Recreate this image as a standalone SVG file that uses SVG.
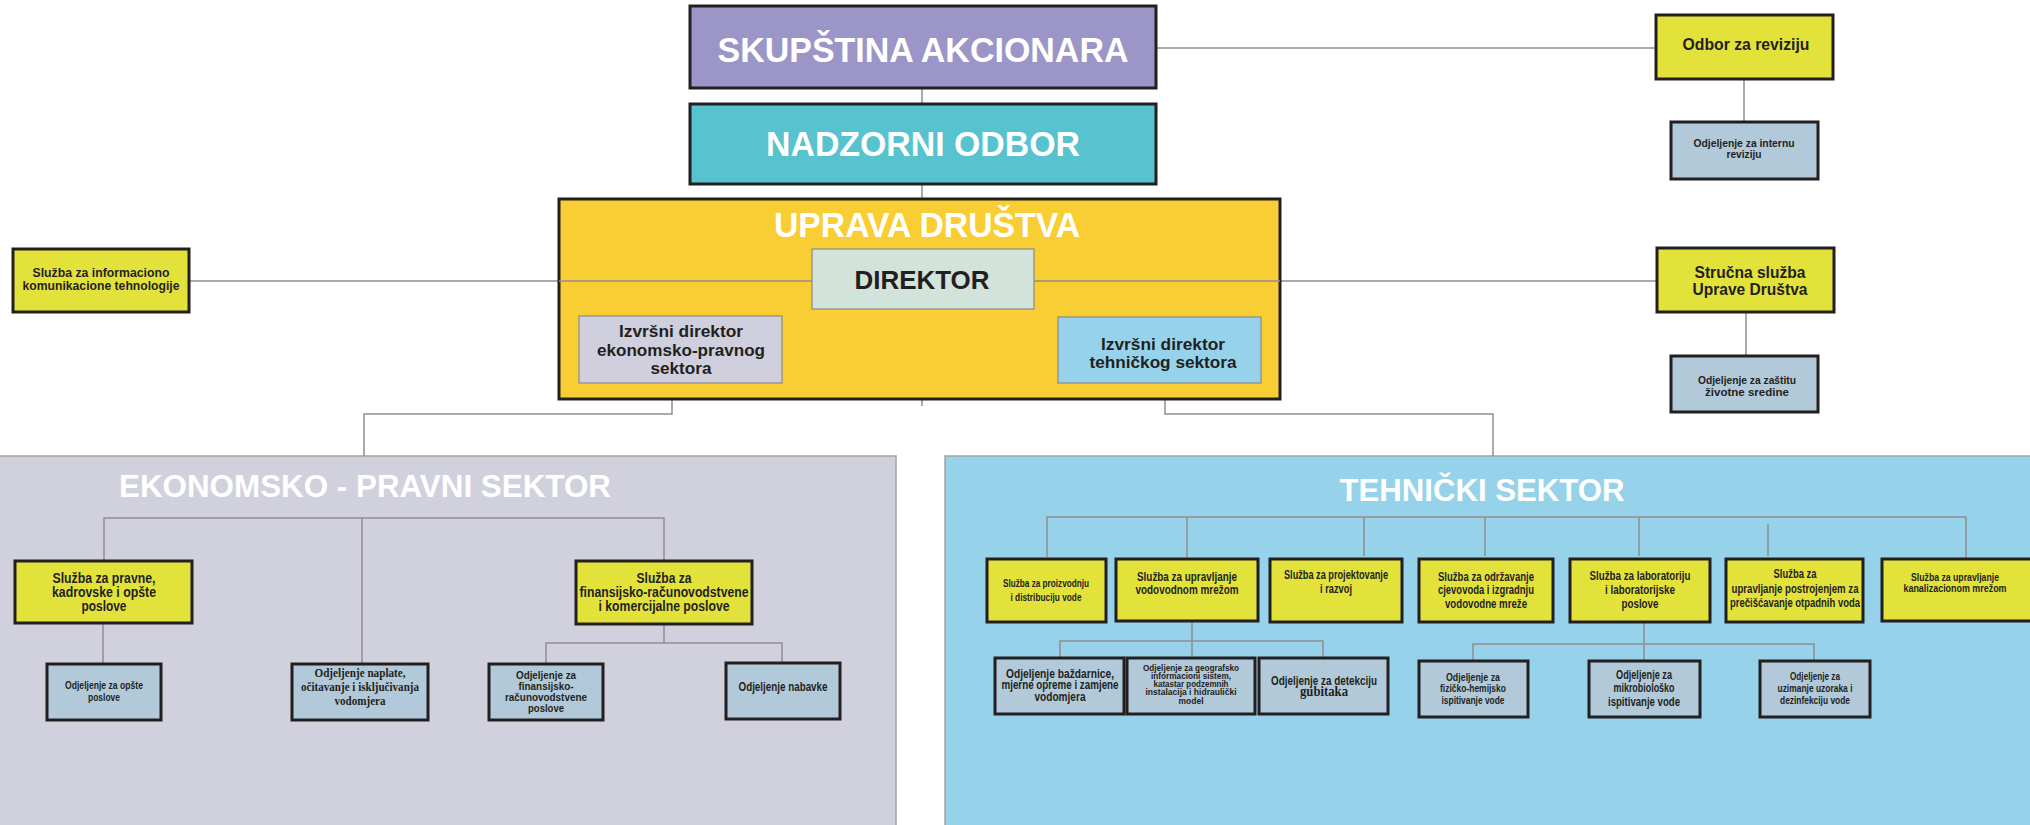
<svg xmlns="http://www.w3.org/2000/svg" width="2030" height="825" viewBox="0 0 2030 825">
<style>
text{font-family:"Liberation Sans",Arial,sans-serif;font-weight:bold;text-anchor:middle;fill:#231f20}
.w{fill:#ffffff}
.serif{font-family:"Liberation Serif","Times New Roman",serif}
.con{stroke:#8f8f8f;stroke-width:1.5;fill:none}
.thick{stroke:#231f20;stroke-width:3}
.thin{stroke:#8a8a8a;stroke-width:1.2}
.yel{fill:#e3e23b}
.blu{fill:#b2c9d9}
</style>
<rect x="0" y="0" width="2030" height="825" fill="#ffffff"/>
<g id="region-ekonomsko">
<rect x="-5" y="456" width="901" height="380" fill="#d1d1dd" stroke="#a3a3a8" stroke-width="1.5"/>
<text class="w" x="365" y="497" font-size="31" textLength="492" lengthAdjust="spacingAndGlyphs">EKONOMSKO - PRAVNI SEKTOR</text>
</g>
<g id="region-tehnicki">
<rect x="945" y="456" width="1100" height="380" fill="#96d3ea" stroke="#a3a3a8" stroke-width="1.5"/>
<text class="w" x="1482" y="501" font-size="31" textLength="285" lengthAdjust="spacingAndGlyphs">TEHNIČKI SEKTOR</text>
</g>
<g id="connectors" class="con">
<path d="M1156 48H1656"/>
<path d="M922 88V104M922 184V199M922 399V406"/>
<path d="M1744 79V122"/>
<path d="M189 281H1657"/>
<path d="M1746 312V356"/>
<path d="M672 383V414H364V456"/>
<path d="M1165 383V414H1493V456"/>
<path d="M104 561V518H664V561M362 518V664M103 623V664"/>
<path d="M664 624V643M546 664V643H782V663"/>
<path d="M1047 557V517H1966V558M1187 517V557M1364 517V556M1485 517V556M1639 517V556M1768 524V556"/>
<path d="M1192 621V658M1060 658V641H1323V658"/>
<path d="M1644 622V661M1473 661V644H1814V661"/>
</g>
<g id="skupstina">
<rect class="thick" x="690" y="6" width="466" height="82" fill="#9c95c7"/>
<text class="w" x="923" y="62" font-size="35" textLength="411" lengthAdjust="spacingAndGlyphs">SKUPŠTINA AKCIONARA</text>
</g>
<g id="nadzorni">
<rect class="thick" x="690" y="104" width="466" height="80" fill="#57c3ce"/>
<text class="w" x="923" y="156" font-size="35" textLength="314" lengthAdjust="spacingAndGlyphs">NADZORNI ODBOR</text>
</g>
<g id="uprava">
<rect class="thick" x="559" y="199" width="721" height="200" fill="#f9ce35"/>
<text class="w" x="927" y="237" font-size="35" textLength="306" lengthAdjust="spacingAndGlyphs">UPRAVA DRUŠTVA</text>
<path class="con" d="M559 281H812M1034 281H1280"/>
</g>
<g id="direktor">
<rect class="thin" x="812" y="249" width="222" height="60" fill="#d2e3dc"/>
<text x="922" y="289" font-size="26" textLength="135" lengthAdjust="spacingAndGlyphs">DIREKTOR</text>
</g>
<g id="izvrsni-ekonomsko">
<rect class="thin" x="579" y="316" width="203" height="67" fill="#cfcfdd"/>
<text x="681" y="337" font-size="16" textLength="124" lengthAdjust="spacingAndGlyphs">Izvršni direktor</text>
<text x="681" y="356" font-size="16" textLength="168" lengthAdjust="spacingAndGlyphs">ekonomsko-pravnog</text>
<text x="681" y="374" font-size="16" textLength="61" lengthAdjust="spacingAndGlyphs">sektora</text>
</g>
<g id="izvrsni-tehnicki">
<rect class="thin" x="1058" y="317" width="203" height="66" fill="#96d3ea"/>
<text x="1163" y="350" font-size="16" textLength="124" lengthAdjust="spacingAndGlyphs">Izvršni direktor</text>
<text x="1163" y="368" font-size="16" textLength="147" lengthAdjust="spacingAndGlyphs">tehničkog sektora</text>
</g>
<g id="sluzba-ikt">
<rect class="thick yel" x="13" y="249" width="176" height="63"/>
<text x="101" y="277" font-size="13" textLength="137" lengthAdjust="spacingAndGlyphs">Služba za informaciono</text>
<text x="101" y="290" font-size="13" textLength="157" lengthAdjust="spacingAndGlyphs">komunikacione tehnologije</text>
</g>
<g id="odbor-revizija">
<rect class="thick yel" x="1656" y="15" width="177" height="64"/>
<text x="1746" y="50" font-size="16.5" textLength="127" lengthAdjust="spacingAndGlyphs">Odbor za reviziju</text>
</g>
<g id="odjeljenje-interna-revizija">
<rect class="thick blu" x="1671" y="122" width="147" height="57"/>
<text x="1744" y="147" font-size="11.5" textLength="101" lengthAdjust="spacingAndGlyphs">Odjeljenje za internu</text>
<text x="1744" y="158" font-size="11.5" textLength="35" lengthAdjust="spacingAndGlyphs">reviziju</text>
</g>
<g id="strucna-sluzba">
<rect class="thick yel" x="1657" y="248" width="177" height="64"/>
<text x="1750" y="278" font-size="16.5" textLength="111" lengthAdjust="spacingAndGlyphs">Stručna služba</text>
<text x="1750" y="295" font-size="16.5" textLength="115" lengthAdjust="spacingAndGlyphs">Uprave Društva</text>
</g>
<g id="odjeljenje-zastita">
<rect class="thick blu" x="1671" y="356" width="147" height="56"/>
<text x="1747" y="384" font-size="11.5" textLength="98" lengthAdjust="spacingAndGlyphs">Odjeljenje za zaštitu</text>
<text x="1747" y="396" font-size="11.5" textLength="84" lengthAdjust="spacingAndGlyphs">životne sredine</text>
</g>
<g id="sluzba-pravne">
<rect class="thick yel" x="15" y="561" width="177" height="62"/>
<text x="104" y="583" font-size="14" textLength="103" lengthAdjust="spacingAndGlyphs">Služba za pravne,</text>
<text x="104" y="597" font-size="14" textLength="104" lengthAdjust="spacingAndGlyphs">kadrovske i opšte</text>
<text x="104" y="611" font-size="14" textLength="45" lengthAdjust="spacingAndGlyphs">poslove</text>
</g>
<g id="sluzba-finansijsko">
<rect class="thick yel" x="576" y="561" width="176" height="63"/>
<text x="664" y="583" font-size="14" textLength="55" lengthAdjust="spacingAndGlyphs">Služba za</text>
<text x="664" y="597" font-size="14" textLength="169" lengthAdjust="spacingAndGlyphs">finansijsko-računovodstvene</text>
<text x="664" y="611" font-size="14" textLength="131" lengthAdjust="spacingAndGlyphs">i komercijalne poslove</text>
</g>
<g id="odjeljenje-opste">
<rect class="thick blu" x="47" y="664" width="114" height="56"/>
<text x="104" y="689" font-size="11" textLength="78" lengthAdjust="spacingAndGlyphs">Odjeljenje za opšte</text>
<text x="104" y="701" font-size="11" textLength="32" lengthAdjust="spacingAndGlyphs">poslove</text>
</g>
<g id="odjeljenje-naplate">
<rect class="thick blu" x="292" y="664" width="136" height="56"/>
<text class="serif" x="360" y="677" font-size="13" textLength="91" lengthAdjust="spacingAndGlyphs">Odjeljenje naplate,</text>
<text class="serif" x="360" y="691" font-size="13" textLength="118" lengthAdjust="spacingAndGlyphs">očitavanje i isključivanja</text>
<text class="serif" x="360" y="705" font-size="13" textLength="51" lengthAdjust="spacingAndGlyphs">vodomjera</text>
</g>
<g id="odjeljenje-finansijsko">
<rect class="thick blu" x="489" y="664" width="114" height="56"/>
<text x="546" y="679" font-size="11" textLength="60" lengthAdjust="spacingAndGlyphs">Odjeljenje za</text>
<text x="546" y="690" font-size="11" textLength="55" lengthAdjust="spacingAndGlyphs">finansijsko-</text>
<text x="546" y="701" font-size="11" textLength="82" lengthAdjust="spacingAndGlyphs">računovodstvene</text>
<text x="546" y="712" font-size="11" textLength="36" lengthAdjust="spacingAndGlyphs">poslove</text>
</g>
<g id="odjeljenje-nabavke">
<rect class="thick blu" x="726" y="663" width="114" height="56"/>
<text x="783" y="691" font-size="12" textLength="89" lengthAdjust="spacingAndGlyphs">Odjeljenje nabavke</text>
</g>
<g id="sluzba-proizvodnja">
<rect class="thick yel" x="987" y="559" width="119" height="63"/>
<text x="1046" y="587" font-size="11.5" textLength="86" lengthAdjust="spacingAndGlyphs">Služba za proizvodnju</text>
<text x="1046" y="601" font-size="11.5" textLength="71" lengthAdjust="spacingAndGlyphs">i distribuciju vode</text>
</g>
<g id="sluzba-vodovodna-mreza">
<rect class="thick yel" x="1116" y="559" width="142" height="62"/>
<text x="1187" y="581" font-size="12.5" textLength="100" lengthAdjust="spacingAndGlyphs">Služba za upravljanje</text>
<text x="1187" y="594" font-size="12.5" textLength="103" lengthAdjust="spacingAndGlyphs">vodovodnom mrežom</text>
</g>
<g id="sluzba-projektovanje">
<rect class="thick yel" x="1270" y="559" width="132" height="63"/>
<text x="1336" y="579" font-size="12.5" textLength="104" lengthAdjust="spacingAndGlyphs">Služba za projektovanje</text>
<text x="1336" y="593" font-size="12.5" textLength="32" lengthAdjust="spacingAndGlyphs">i razvoj</text>
</g>
<g id="sluzba-odrzavanje">
<rect class="thick yel" x="1419" y="559" width="134" height="63"/>
<text x="1486" y="581" font-size="12" textLength="96" lengthAdjust="spacingAndGlyphs">Služba za održavanje</text>
<text x="1486" y="594" font-size="12" textLength="96" lengthAdjust="spacingAndGlyphs">cjevovoda i izgradnju</text>
<text x="1486" y="608" font-size="12" textLength="82" lengthAdjust="spacingAndGlyphs">vodovodne mreže</text>
</g>
<g id="sluzba-laboratorija">
<rect class="thick yel" x="1570" y="559" width="140" height="63"/>
<text x="1640" y="580" font-size="12.5" textLength="101" lengthAdjust="spacingAndGlyphs">Služba za laboratoriju</text>
<text x="1640" y="594" font-size="12.5" textLength="70" lengthAdjust="spacingAndGlyphs">i laboratorijske</text>
<text x="1640" y="608" font-size="12.5" textLength="37" lengthAdjust="spacingAndGlyphs">poslove</text>
</g>
<g id="sluzba-postrojenje">
<rect class="thick yel" x="1726" y="559" width="137" height="63"/>
<text x="1795" y="578" font-size="12" textLength="43" lengthAdjust="spacingAndGlyphs">Služba za</text>
<text x="1795" y="593" font-size="12" textLength="127" lengthAdjust="spacingAndGlyphs">upravljanje postrojenjem za</text>
<text x="1795" y="607" font-size="12" textLength="130" lengthAdjust="spacingAndGlyphs">prečišćavanje otpadnih voda</text>
</g>
<g id="sluzba-kanalizacija">
<rect class="thick yel" x="1882" y="559" width="160" height="62"/>
<text x="1955" y="581" font-size="11.5" textLength="88" lengthAdjust="spacingAndGlyphs">Služba za upravljanje</text>
<text x="1955" y="592" font-size="11.5" textLength="103" lengthAdjust="spacingAndGlyphs">kanalizacionom mrežom</text>
</g>
<g id="odjeljenje-bazdarnice">
<rect class="thick blu" x="995" y="658" width="129" height="56"/>
<text x="1060" y="678" font-size="12" textLength="108" lengthAdjust="spacingAndGlyphs">Odjeljenje baždarnice,</text>
<text x="1060" y="689" font-size="12" textLength="117" lengthAdjust="spacingAndGlyphs">mjerne opreme i zamjene</text>
<text x="1060" y="701" font-size="12" textLength="51" lengthAdjust="spacingAndGlyphs">vodomjera</text>
</g>
<g id="odjeljenje-gis">
<rect class="thick blu" x="1127" y="658" width="128" height="56"/>
<text x="1191" y="671" font-size="9.5" textLength="96" lengthAdjust="spacingAndGlyphs">Odjeljenje za geografsko</text>
<text x="1191" y="679" font-size="9.5" textLength="80" lengthAdjust="spacingAndGlyphs">informacioni sistem,</text>
<text x="1191" y="687" font-size="9.5" textLength="75" lengthAdjust="spacingAndGlyphs">katastar podzemnih</text>
<text x="1191" y="695" font-size="9.5" textLength="91" lengthAdjust="spacingAndGlyphs">instalacija i hidraulički</text>
<text x="1191" y="704" font-size="9.5" textLength="25" lengthAdjust="spacingAndGlyphs">model</text>
</g>
<g id="odjeljenje-detekcija">
<rect class="thick blu" x="1259" y="658" width="129" height="56"/>
<text x="1324" y="685" font-size="12" textLength="106" lengthAdjust="spacingAndGlyphs">Odjeljenje za detekciju</text>
<text class="serif" x="1324" y="696" font-size="14" textLength="48" lengthAdjust="spacingAndGlyphs">gubitaka</text>
</g>
<g id="odjeljenje-fizicko">
<rect class="thick blu" x="1419" y="661" width="109" height="56"/>
<text x="1473" y="681" font-size="10.5" textLength="54" lengthAdjust="spacingAndGlyphs">Odjeljenje za</text>
<text x="1473" y="692" font-size="10.5" textLength="66" lengthAdjust="spacingAndGlyphs">fizičko-hemijsko</text>
<text x="1473" y="704" font-size="10.5" textLength="63" lengthAdjust="spacingAndGlyphs">ispitivanje vode</text>
</g>
<g id="odjeljenje-mikrobiolosko">
<rect class="thick blu" x="1589" y="661" width="111" height="56"/>
<text x="1644" y="679" font-size="12" textLength="56" lengthAdjust="spacingAndGlyphs">Odjeljenje za</text>
<text x="1644" y="692" font-size="12" textLength="61" lengthAdjust="spacingAndGlyphs">mikrobiološko</text>
<text x="1644" y="706" font-size="12" textLength="72" lengthAdjust="spacingAndGlyphs">ispitivanje vode</text>
</g>
<g id="odjeljenje-uzorci">
<rect class="thick blu" x="1760" y="661" width="110" height="56"/>
<text x="1815" y="680" font-size="10.5" textLength="50" lengthAdjust="spacingAndGlyphs">Odjeljenje za</text>
<text x="1815" y="692" font-size="10.5" textLength="75" lengthAdjust="spacingAndGlyphs">uzimanje uzoraka i</text>
<text x="1815" y="704" font-size="10.5" textLength="70" lengthAdjust="spacingAndGlyphs">dezinfekciju vode</text>
</g>
</svg>
